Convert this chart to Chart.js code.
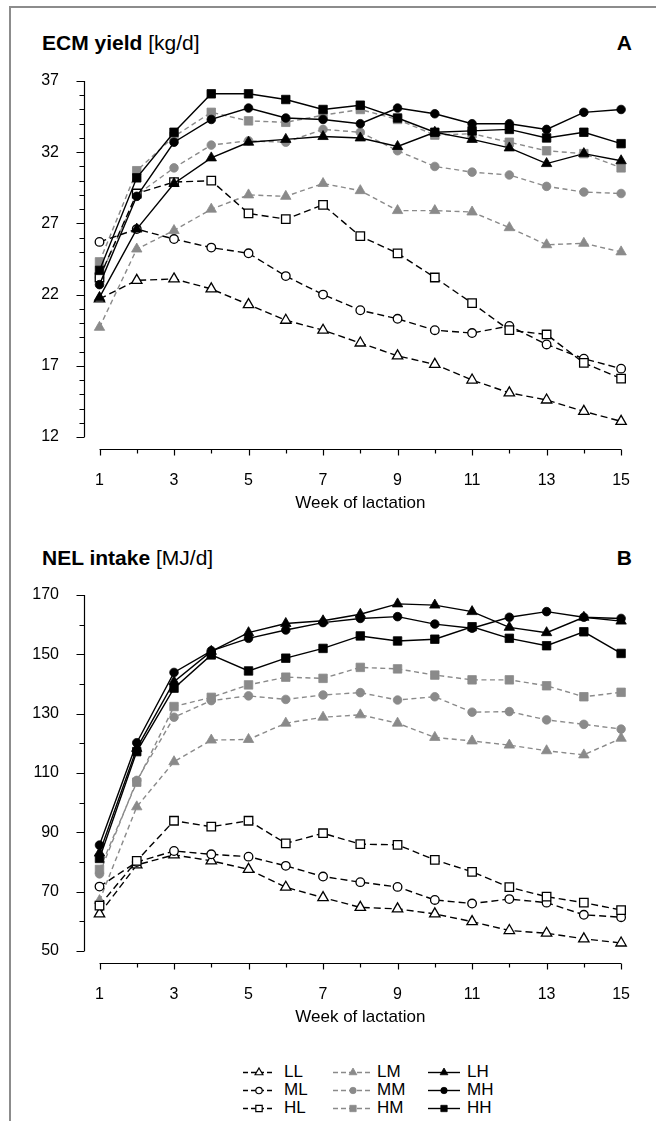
<!DOCTYPE html>
<html>
<head>
<meta charset="utf-8">
<script src="https://cdn.jsdelivr.net/npm/chart.js@4.4.1/dist/chart.umd.min.js"></script>
<style>
  body { margin: 0; background: #fff; font-family: "Liberation Sans", Arial, sans-serif; color: #000; }
  #page { position: relative; width: 656px; height: 1121px; overflow: hidden; }
  .frame { position: absolute; left: 9px; top: 6px; width: 700px; height: 1200px;
           border-left: 2px solid #8c8c8c; border-top: 2px solid #8c8c8c; }
  .ttl { position: absolute; left: 42px; font-size: 21px; line-height: 24px; }
  .tag { position: absolute; right: 24px; font-size: 21px; line-height: 24px; font-weight: bold; }
  canvas.ch { position: absolute; left: 0; }
  #legend { position: absolute; left: 0; top: 1062px; font-size: 17px; line-height: 20px; }
  .lg-item { position: absolute; white-space: nowrap; }
  .lg-item canvas { position: absolute; top: 3px; }
  .lg-item span { position: absolute; top: 0; }
</style>
</head>
<body>
<div id="page">
  <div class="frame"></div>
  <div class="ttl" style="top:31px"><b>ECM yield</b> [kg/d]</div>
  <div class="tag" style="top:31px">A</div>
  <canvas id="chartA" class="ch" width="656" height="530" style="top:0"></canvas>
  <div class="ttl" style="top:546px"><b>NEL intake</b> [MJ/d]</div>
  <div class="tag" style="top:546px">B</div>
  <canvas id="chartB" class="ch" width="656" height="514" style="top:530px"></canvas>
  <div id="legend"></div>
</div>
<script>
const weeks = [1, 2, 3, 4, 5, 6, 7, 8, 9, 10, 11, 12, 13, 14, 15];
const xTickLabels = [1, 3, 5, 7, 9, 11, 13, 15];
const groups = ['LL', 'ML', 'HL', 'LM', 'MM', 'HM', 'LH', 'MH', 'HH'];

// panel A - ECM yield [kg/d]
const yTicksA = [12, 17, 22, 27, 32, 37];
const ecm_LL = [21.7, 23.0, 23.1, 22.4, 21.3, 20.2, 19.5, 18.6, 17.7, 17.1, 16.0, 15.1, 14.6, 13.8, 13.1];
const ecm_ML = [25.7, 26.6, 25.9, 25.3, 24.9, 23.3, 22.0, 20.9, 20.3, 19.5, 19.3, 19.8, 18.5, 17.5, 16.8];
const ecm_HL = [23.2, 29.1, 29.9, 30.0, 27.7, 27.3, 28.3, 26.1, 24.9, 23.2, 21.4, 19.5, 19.2, 17.2, 16.1];
const ecm_LM = [19.7, 25.2, 26.5, 28.0, 29.0, 28.9, 29.8, 29.3, 27.9, 27.9, 27.8, 26.7, 25.5, 25.6, 25.0];
const ecm_MM = [23.2, 29.0, 30.9, 32.5, 32.8, 32.7, 33.6, 33.4, 32.1, 31.0, 30.6, 30.4, 29.6, 29.2, 29.1];
const ecm_HM = [24.3, 30.7, 33.1, 34.8, 34.2, 34.1, 34.6, 35.0, 34.3, 33.2, 33.3, 32.7, 32.1, 31.9, 30.9];
const ecm_LH = [21.8, 26.6, 29.8, 31.6, 32.7, 32.9, 33.1, 33.0, 32.4, 33.4, 32.9, 32.3, 31.2, 31.9, 31.4];
const ecm_MH = [22.7, 28.9, 32.7, 34.3, 35.1, 34.4, 34.3, 34.0, 35.1, 34.7, 34.0, 34.0, 33.6, 34.8, 35.0];
const ecm_HH = [23.7, 30.2, 33.4, 36.1, 36.1, 35.7, 35.0, 35.3, 34.4, 33.4, 33.5, 33.6, 33.0, 33.4, 32.6];

// panel B - NEL intake [MJ/d]
const yTicksB = [50, 70, 90, 110, 130, 150, 170];
const nel_LL = [62.5, 79.0, 82.4, 80.4, 77.5, 71.5, 68.0, 64.7, 64.2, 62.5, 59.9, 56.9, 56.0, 54.1, 52.7];
const nel_ML = [71.7, 80.0, 83.7, 82.6, 81.8, 78.7, 75.1, 73.2, 71.6, 67.2, 66.0, 67.5, 66.3, 62.2, 61.4];
const nel_HL = [65.3, 80.4, 93.9, 91.9, 93.9, 86.3, 89.7, 86.0, 85.8, 80.7, 76.7, 71.5, 68.3, 66.3, 63.8];
const nel_LM = [67.0, 98.6, 113.8, 121.1, 121.3, 126.8, 128.8, 129.6, 126.8, 122.0, 120.8, 119.4, 117.5, 116.1, 121.7];
const nel_MM = [76.0, 107.5, 128.8, 134.4, 136.0, 134.8, 136.3, 137.1, 134.6, 135.7, 130.5, 130.7, 127.9, 126.4, 124.8];
const nel_HM = [77.5, 106.9, 132.4, 135.5, 139.7, 142.3, 141.9, 145.6, 145.1, 143.0, 141.4, 141.4, 139.4, 135.7, 137.2];
const nel_LH = [83.0, 118.3, 140.8, 151.0, 157.3, 160.4, 161.3, 163.5, 167.0, 166.6, 164.4, 159.1, 157.3, 162.5, 161.2];
const nel_MH = [85.7, 120.2, 143.9, 151.2, 155.4, 158.2, 160.7, 162.1, 162.7, 160.2, 158.8, 162.5, 164.4, 162.5, 162.1];
const nel_HH = [81.2, 117.2, 138.6, 149.8, 144.4, 148.7, 152.0, 156.2, 154.5, 155.1, 159.3, 155.4, 152.9, 157.6, 150.3];

const ecmData = { LL: ecm_LL, ML: ecm_ML, HL: ecm_HL, LM: ecm_LM, MM: ecm_MM, HM: ecm_HM, LH: ecm_LH, MH: ecm_MH, HH: ecm_HH };
const nelData = { LL: nel_LL, ML: nel_ML, HL: nel_HL, LM: nel_LM, MM: nel_MM, HM: nel_HM, LH: nel_LH, MH: nel_MH, HH: nel_HH };

const GRAY = '#8a8a8a';
const FONT = '"Liberation Sans", Arial, sans-serif';

// first letter -> marker shape, second letter -> line/fill style
const shapes = { L: 'triangle', M: 'circle', H: 'rect' };
const radius = { triangle: 6, circle: 4.3, rect: 6 };

function styleFor (name) {
  const shape = shapes[name[0]];
  const kind = name[1];
  if (kind === 'L') {
    return { shape, line: '#000', fill: '#fff', border: '#000', dash: [7, 4] };
  } else if (kind === 'M') {
    return { shape, line: GRAY, fill: GRAY, border: GRAY, dash: [5, 3.5] };
  }
  return { shape, line: '#000', fill: '#000', border: '#000', dash: [] };
}

// draw order: black on top, then open markers, gray underneath
const drawOrder = ['HH', 'MH', 'LH', 'HL', 'ML', 'LL', 'HM', 'MM', 'LM'];

function makeDatasets (src) {
  return drawOrder.map(name => {
    const s = styleFor(name);
    return {
      label: name,
      data: weeks.map((w, i) => ({ x: w, y: src[name][i] })),
      borderColor: s.line,
      borderWidth: 1.4,
      borderDash: s.dash,
      pointStyle: s.shape,
      pointRadius: radius[s.shape],
      pointBackgroundColor: s.fill,
      pointBorderColor: s.border,
      pointBorderWidth: s.fill === '#fff' ? 1.3 : 0.8,
      tension: 0,
      clip: false
    };
  });
}

// axis lines drawn a little away from the plot area, with minor ticks
const offsetAxes = {
  id: 'offsetAxes',
  afterDraw (chart, args, opts) {
    const { ctx, chartArea } = chart;
    const x = chart.scales.x;
    const y = chart.scales.y;
    const ax = Math.round(chartArea.left - opts.gapX) + 0.5;
    const ay = Math.round(chartArea.bottom + opts.gapY) + 0.5;
    ctx.save();
    ctx.strokeStyle = '#000';
    ctx.lineWidth = 1.2;
    ctx.beginPath();
    ctx.moveTo(ax, y.getPixelForValue(y.min));
    ctx.lineTo(ax, y.getPixelForValue(y.max));
    for (let v = y.min; v <= y.max; v += opts.minorY) {
      const py = Math.round(y.getPixelForValue(v)) + 0.5;
      const len = opts.majorY.includes(v) ? 8 : 5;
      ctx.moveTo(ax, py);
      ctx.lineTo(ax - len, py);
    }
    ctx.moveTo(x.getPixelForValue(x.min), ay);
    ctx.lineTo(x.getPixelForValue(x.max), ay);
    for (const w of weeks) {
      const px = Math.round(x.getPixelForValue(w)) + 0.5;
      const len = xTickLabels.includes(w) ? 6 : 4;
      ctx.moveTo(px, ay);
      ctx.lineTo(px, ay + len);
    }
    ctx.stroke();
    ctx.restore();
  }
};

function makeChart (id, src, yTicks, minorY, padTop) {
  const ctx = document.getElementById(id).getContext('2d');
  return new Chart(ctx, {
    type: 'line',
    data: { datasets: makeDatasets(src) },
    options: {
      responsive: false,
      animation: false,
      events: [],
      layout: { padding: { top: padTop, right: 32, bottom: 0, left: 0 } },
      plugins: {
        legend: { display: false },
        tooltip: { enabled: false },
        offsetAxes: { gapX: 15.5, gapY: 12, minorY: minorY, majorY: yTicks }
      },
      scales: {
        x: {
          type: 'linear',
          min: 1,
          max: 15,
          afterFit: s => { s.height = 93; },
          afterBuildTicks: s => { s.ticks = xTickLabels.map(v => ({ value: v })); },
          grid: { display: false },
          border: { display: false },
          ticks: { padding: 26, color: '#000', font: { family: FONT, size: 16 }, maxRotation: 0 },
          title: { display: true, text: 'Week of lactation', color: '#000', font: { family: FONT, size: 17 }, padding: { top: 0, bottom: 16 } }
        },
        y: {
          min: yTicks[0],
          max: yTicks[yTicks.length - 1],
          afterFit: s => { s.width = 99.5; },
          afterBuildTicks: s => { s.ticks = yTicks.map(v => ({ value: v })); },
          grid: { display: false },
          border: { display: false },
          ticks: { padding: 32.5, color: '#000', font: { family: FONT, size: 16 } }
        }
      }
    },
    plugins: [offsetAxes]
  });
}

makeChart('chartA', ecmData, yTicksA, 1, 81);
makeChart('chartB', nelData, yTicksB, 10, 65);

// legend: three columns (L, M, H style), rows by marker shape
const legendEl = document.getElementById('legend');
const sampleX = { L: 241, M: 331, H: 426 };
const sampleW = { L: 36, M: 44, H: 36 };
const labelX = { L: 284, M: 377, H: 467 };
const rowY = { L: 0, M: 18, H: 36 };
groups.forEach(name => {
  const s = styleFor(name);
  const item = document.createElement('div');
  item.className = 'lg-item';
  item.style.left = '0px';
  item.style.top = rowY[name[0]] + 'px';
  const col = name[1];
  const c = document.createElement('canvas');
  c.width = sampleW[col]; c.height = 14;
  c.style.left = sampleX[col] + 'px';
  const span = document.createElement('span');
  span.textContent = name;
  span.style.left = labelX[col] + 'px';
  item.appendChild(c);
  item.appendChild(span);
  legendEl.appendChild(item);
  const g = c.getContext('2d');
  const w = sampleW[col];
  g.strokeStyle = s.line;
  g.lineWidth = 1.4;
  g.setLineDash(s.dash.length ? [5, 3] : []);
  g.beginPath();
  g.moveTo(2, 7.5);
  g.lineTo(w - 2, 7.5);
  g.stroke();
  g.setLineDash([]);
  g.fillStyle = s.fill;
  g.strokeStyle = s.border;
  g.lineWidth = s.fill === '#fff' ? 1.2 : 0.8;
  Chart.helpers.drawPoint(g, { pointStyle: s.shape, radius: radius[s.shape] * 0.75, rotation: 0, borderWidth: g.lineWidth }, w / 2, 7.5);
});
</script>
</body>
</html>
